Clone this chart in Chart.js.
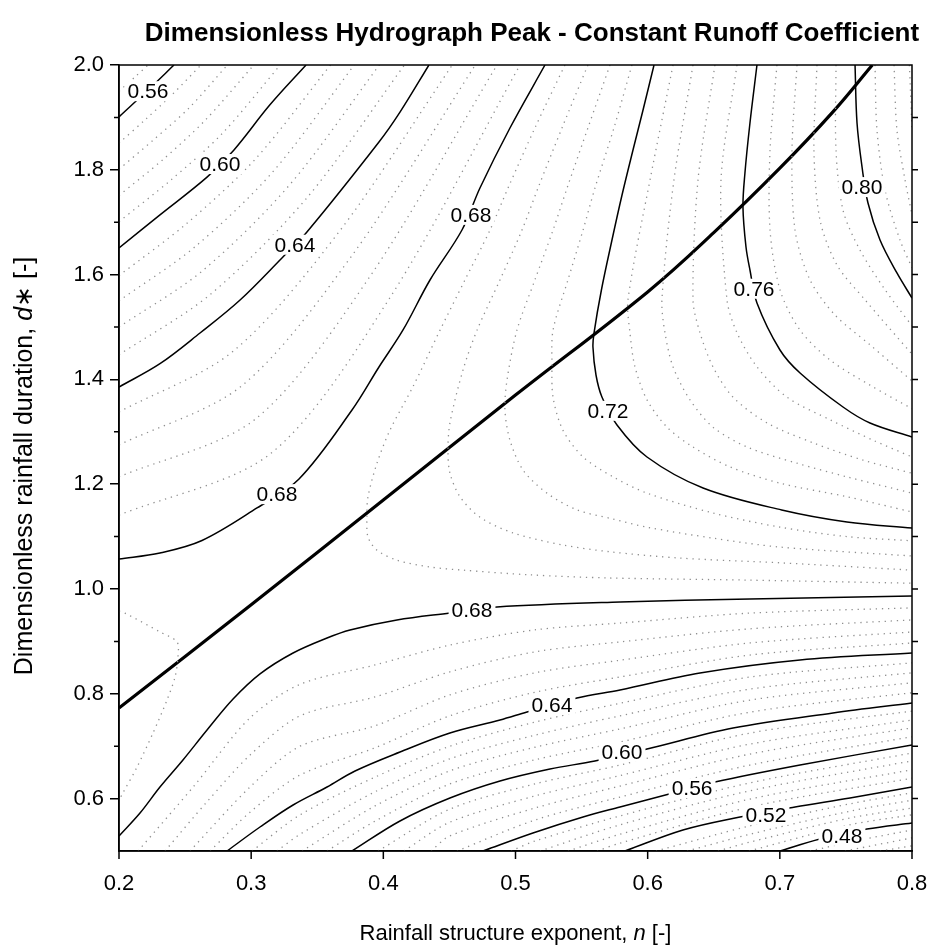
<!DOCTYPE html>
<html lang="en">
<head>
<meta charset="UTF-8">
<title>Dimensionless Hydrograph Peak - Constant Runoff Coefficient</title>
<script src="https://cdn.jsdelivr.net/npm/chart.js"></script>
<style>
  body { margin: 0; background: #fff; }
  #chart { display: block; }
</style>
</head>
<body>
<canvas id="chart" width="931" height="951"></canvas>
<script>
const FONT = '"Liberation Sans", Arial, sans-serif';

// axis ticks
const xTicks = [0.2, 0.3, 0.4, 0.5, 0.6, 0.7, 0.8];
const yTicks = [0.6, 0.8, 1.0, 1.2, 1.4, 1.6, 1.8, 2.0];
const yMinorTicks = [0.7, 0.9, 1.1, 1.3, 1.5, 1.7, 1.9];
const yRightTicks = [0.6, 0.7, 0.8, 0.9, 1.0, 1.1, 1.2, 1.3, 1.4, 1.5, 1.6, 1.7, 1.8, 1.9];

// solid contours, [n, d*]
const c056a = [[0.200,1.901],[0.2235,1.956],[0.2416,2.0]];
const c060a = [[0.200,1.651],[0.231,1.714],[0.2666,1.786],[0.287,1.838],[0.3142,1.924],[0.3415,2.0]];
const c064a = [[0.200,1.3855],[0.231,1.430],[0.2613,1.4885],[0.2916,1.5515],[0.3233,1.6317],[0.3422,1.6813],[0.3967,1.853],[0.4126,1.910],[0.4345,2.0]];
const c068a = [[0.200,1.0573],[0.231,1.0687],[0.2628,1.0925],[0.3044,1.1546],[0.3362,1.2100],[0.3763,1.3416],[0.3967,1.4237],[0.4149,1.4943],[0.4353,1.5897],[0.4595,1.6851],[0.4731,1.7653],[0.4958,1.8798],[0.5223,2.0]];
const c072 = [[0.6048,2.0],[0.5965,1.9141],[0.5889,1.8378],[0.5806,1.7519],[0.5730,1.666],[0.5650,1.5706],[0.5594,1.4885],[0.5586,1.4618],[0.5609,1.4084],[0.5654,1.3664],[0.5768,1.313],[0.5995,1.2519],[0.6419,1.1927],[0.7014,1.1508],[0.7508,1.1279],[0.8,1.1164]];
const c076 = [[0.6827,2.0],[0.6774,1.8893],[0.6736,1.7939],[0.6721,1.729],[0.6744,1.6527],[0.6774,1.6088],[0.6827,1.5458],[0.7001,1.4561],[0.7153,1.4122],[0.7478,1.3473],[0.7682,1.3168],[0.8,1.2901]];
const c080 = [[0.7569,2.0],[0.7584,1.8893],[0.7622,1.8053],[0.7667,1.7366],[0.7758,1.666],[0.7886,1.6031],[0.8,1.5553]];
const c068b = [[0.200,0.5286],[0.2159,0.5725],[0.231,0.6221],[0.2484,0.6737],[0.2666,0.7309],[0.2863,0.7900],[0.3067,0.8380],[0.3317,0.8779],[0.3574,0.9065],[0.3748,0.9218],[0.4103,0.9408],[0.4504,0.9542],[0.486,0.9656],[0.5791,0.9752],[0.6774,0.9809],[0.8,0.9866]];
const c064b = [[0.2817,0.5],[0.3067,0.5458],[0.3317,0.5878],[0.3574,0.6221],[0.3786,0.6527],[0.4126,0.6889],[0.4504,0.7252],[0.4883,0.75],[0.5087,0.7653],[0.5465,0.792],[0.5791,0.8073],[0.6396,0.8397],[0.7153,0.8645],[0.8,0.8779]];
const c060b = [[0.3763,0.5],[0.4126,0.5573],[0.4504,0.6011],[0.4883,0.6336],[0.5261,0.6565],[0.5601,0.6718],[0.5995,0.6947],[0.6646,0.7347],[0.7402,0.7634],[0.8,0.7824]];
const c056b = [[0.4754,0.5],[0.5132,0.5344],[0.5511,0.5649],[0.5791,0.584],[0.6192,0.6107],[0.6509,0.6317],[0.7153,0.6641],[0.8,0.7023]];
const c052 = [[0.5828,0.5],[0.6267,0.5401],[0.6661,0.563],[0.7115,0.584],[0.7531,0.6011],[0.8,0.6221]];
const c048 = [[0.7001,0.5],[0.7304,0.5229],[0.7659,0.542],[0.8,0.5534]];

// heavy line
const thickLine = [[0.2,0.773],[0.3,0.970],[0.4,1.170],[0.5,1.370],[0.6,1.567],[0.65,1.680],[0.7,1.803],[0.74,1.910],[0.77,2.0]];

// dotted contours (every 0.008)
const dotsUpperLeft = [
  [[0.2,1.95],[0.212,1.977],[0.222,2.0]],
  [[0.2,1.851],[0.220,1.896],[0.240,1.943],[0.262,2.0]],
  [[0.2,1.801],[0.226,1.857],[0.253,1.918],[0.282,2.0]],
  [[0.2,1.751],[0.233,1.819],[0.265,1.894],[0.302,2.0]],
  [[0.2,1.701],[0.239,1.780],[0.278,1.869],[0.322,2.0]],
  [[0.2,1.598],[0.251,1.697],[0.303,1.820],[0.360,2.0]],
  [[0.2,1.55],[0.257,1.652],[0.316,1.795],[0.378,2.0]],
  [[0.2,1.50],[0.263,1.607],[0.329,1.771],[0.397,2.0]],
  [[0.2,1.447],[0.269,1.562],[0.342,1.746],[0.416,2.0]],
  [[0.2,1.338],[0.286,1.453],[0.366,1.680],[0.4522,2.0]],
  [[0.2,1.275],[0.293,1.388],[0.377,1.639],[0.4696,2.0]],
  [[0.2,1.214],[0.303,1.324],[0.390,1.597],[0.486,2.0]],
  [[0.2,1.141],[0.315,1.259],[0.405,1.556],[0.5034,2.0]]
];
const dotsSaddle = [
  [[0.5374,2.0],[0.5147,1.880],[0.4943,1.765],[0.4807,1.685],[0.4618,1.590],[0.4429,1.494],[0.4224,1.386],[0.4050,1.303],[0.3952,1.240],[0.3884,1.176],[0.3876,1.137],[0.3884,1.099],[0.3952,1.074],[0.4103,1.055],[0.4353,1.042],[0.4603,1.036],[0.5110,1.027],[0.5715,1.021],[0.6752,1.017],[0.8,1.011]],
  [[0.5548,2.0],[0.5352,1.880],[0.5170,1.765],[0.5049,1.685],[0.4883,1.590],[0.4709,1.494],[0.4603,1.418],[0.4504,1.317],[0.4489,1.265],[0.4504,1.221],[0.4580,1.176],[0.4731,1.137],[0.4981,1.107],[0.5359,1.084],[0.5715,1.071],[0.6245,1.059],[0.7001,1.050],[0.8,1.036]],
  [[0.5715,2.0],[0.5548,1.880],[0.5390,1.765],[0.5284,1.685],[0.5147,1.590],[0.5011,1.494],[0.4936,1.399],[0.4920,1.342],[0.4958,1.284],[0.5057,1.227],[0.5238,1.183],[0.5465,1.151],[0.5730,1.134],[0.5995,1.118],[0.6494,1.097],[0.7001,1.080],[0.8,1.063]],
  [[0.5881,2.0],[0.5745,1.880],[0.5601,1.765],[0.5511,1.685],[0.5397,1.590],[0.5284,1.494],[0.5276,1.431],[0.5284,1.366],[0.5359,1.303],[0.5511,1.252],[0.5738,1.214],[0.5995,1.183],[0.6494,1.145],[0.7001,1.118],[0.7508,1.100],[0.8,1.092]]
];
const dotsUpperRight = [
  [[0.6192,2.0],[0.6018,1.781],[0.5851,1.552],[0.5866,1.489],[0.5904,1.424],[0.5995,1.361],[0.6146,1.309],[0.6343,1.271],[0.6623,1.233],[0.7001,1.202],[0.7508,1.176],[0.8,1.147]],
  [[0.6343,2.0],[0.6199,1.781],[0.6108,1.552],[0.6131,1.489],[0.6192,1.424],[0.6320,1.361],[0.6494,1.309],[0.6752,1.271],[0.7130,1.240],[0.7508,1.214],[0.8,1.183]],
  [[0.6509,2.0],[0.6381,1.781],[0.6343,1.552],[0.6396,1.489],[0.6494,1.424],[0.6646,1.366],[0.6903,1.317],[0.7251,1.279],[0.7629,1.246],[0.8,1.221]],
  [[0.6676,2.0],[0.6555,1.781],[0.6600,1.552],[0.6676,1.489],[0.6827,1.424],[0.7054,1.366],[0.7380,1.323],[0.7705,1.284],[0.8,1.252]],
  [[0.6978,2.0],[0.6926,1.838],[0.6926,1.685],[0.7001,1.571],[0.7153,1.494],[0.7380,1.437],[0.7682,1.389],[0.8,1.344]],
  [[0.7130,2.0],[0.7092,1.838],[0.7115,1.685],[0.7228,1.590],[0.7417,1.523],[0.7682,1.466],[0.8,1.397]],
  [[0.7281,2.0],[0.7258,1.838],[0.7304,1.704],[0.7433,1.618],[0.7644,1.552],[0.8,1.448]],
  [[0.7425,2.0],[0.7425,1.838],[0.7478,1.723],[0.7606,1.647],[0.7796,1.571],[0.8,1.502]],
  [[0.7720,2.0],[0.7735,1.876],[0.7796,1.761],[0.7909,1.666],[0.8,1.613]],
  [[0.7864,2.0],[0.7886,1.876],[0.7947,1.781],[0.8,1.714]],
  [[0.7980,2.0],[0.7992,1.930],[0.8,1.880]]
];
const dotsLeftBump = [
  [[0.2,0.958],[0.2045,0.954],[0.231,0.918],[0.2439,0.899],[0.2446,0.870],[0.2424,0.832],[0.2363,0.788],[0.2257,0.725],[0.2136,0.660],[0.2030,0.611],[0.2,0.597]]
];
const dotsLower = [
  [[0.2144,0.5],[0.2567,0.624],[0.2991,0.754],[0.3370,0.818],[0.3937,0.855],[0.4504,0.893],[0.5147,0.922],[0.5791,0.935],[0.6774,0.954],[0.8,0.964]],
  [[0.2348,0.5],[0.2666,0.594],[0.2991,0.683],[0.3370,0.758],[0.3937,0.794],[0.4504,0.842],[0.5147,0.880],[0.5791,0.899],[0.6774,0.924],[0.8,0.941]],
  [[0.2537,0.5],[0.2991,0.622],[0.3370,0.700],[0.3937,0.739],[0.4504,0.798],[0.5147,0.840],[0.5791,0.864],[0.6774,0.897],[0.8,0.918]],
  [[0.2689,0.5],[0.2991,0.574],[0.3370,0.645],[0.3937,0.697],[0.4504,0.758],[0.5147,0.803],[0.5791,0.832],[0.6774,0.874],[0.8,0.897]],
  [[0.3006,0.5],[0.3370,0.569],[0.3937,0.641],[0.4504,0.700],[0.5147,0.746],[0.5791,0.782],[0.6774,0.832],[0.8,0.859]],
  [[0.3195,0.5],[0.3370,0.532],[0.3937,0.613],[0.4504,0.676],[0.5147,0.721],[0.5791,0.758],[0.6774,0.809],[0.8,0.840]],
  [[0.3385,0.5],[0.3937,0.586],[0.4504,0.653],[0.5147,0.698],[0.5791,0.733],[0.6774,0.788],[0.8,0.821]],
  [[0.3574,0.5],[0.3937,0.557],[0.4504,0.628],[0.5147,0.674],[0.5791,0.708],[0.6774,0.765],[0.8,0.802]],
  [[0.3960,0.5],[0.4504,0.580],[0.5147,0.628],[0.5791,0.664],[0.6774,0.725],[0.8,0.767]],
  [[0.4156,0.5],[0.4504,0.555],[0.5147,0.605],[0.5791,0.644],[0.6774,0.704],[0.8,0.750]],
  [[0.4361,0.5],[0.4504,0.529],[0.5147,0.582],[0.5791,0.624],[0.6774,0.685],[0.8,0.735]],
  [[0.4557,0.5],[0.5147,0.559],[0.5791,0.603],[0.6774,0.664],[0.8,0.718]],
  [[0.4966,0.5],[0.5147,0.519],[0.5791,0.567],[0.6774,0.630],[0.8,0.687]],
  [[0.5185,0.5],[0.5791,0.550],[0.6774,0.615],[0.8,0.672]],
  [[0.5397,0.5],[0.5791,0.532],[0.6774,0.599],[0.8,0.655]],
  [[0.5617,0.5],[0.5791,0.515],[0.6774,0.584],[0.8,0.639]],
  [[0.6063,0.5],[0.6774,0.548],[0.7531,0.590],[0.8,0.611]],
  [[0.6298,0.5],[0.6774,0.532],[0.7531,0.576],[0.8,0.597]],
  [[0.6532,0.5],[0.6774,0.517],[0.7531,0.563],[0.8,0.582]],
  [[0.6767,0.5],[0.7531,0.550],[0.8,0.569]],
  [[0.7228,0.5],[0.7606,0.521],[0.8,0.540]],
  [[0.7493,0.5],[0.8,0.525]],
  [[0.7758,0.5],[0.8,0.510]]
];

// contour labels
const labelText = ['0.56', '0.60', '0.64', '0.68', '0.68', '0.72', '0.76', '0.80', '0.68', '0.64', '0.60', '0.56', '0.52', '0.48'];
const labelN = [0.2219, 0.2764, 0.3332, 0.3195, 0.4663, 0.570, 0.6805, 0.7622, 0.4671, 0.5276, 0.5806, 0.6336, 0.6895, 0.747];
const labelD = [1.950, 1.811, 1.657, 1.181, 1.714, 1.340, 1.573, 1.767, 0.960, 0.779, 0.689, 0.620, 0.569, 0.529];

const toPts = line => line.map(([n, d]) => ({ x: n, y: d }));

const dotted = [...dotsUpperLeft, ...dotsSaddle, ...dotsUpperRight, ...dotsLeftBump, ...dotsLower];
const solids = [c056a, c060a, c064a, c068a, c072, c076, c080, c068b, c064b, c060b, c056b, c052, c048];

const datasets = [];
dotted.forEach(l => datasets.push({
  data: toPts(l), showLine: true, pointRadius: 0,
  borderColor: '#8f8f8f', borderWidth: 1.3, borderDash: [1.3, 4.8], tension: 0.3
}));
solids.forEach(l => datasets.push({
  data: toPts(l), showLine: true, pointRadius: 0,
  borderColor: '#000', borderWidth: 1.5, tension: 0.35
}));
datasets.push({
  data: toPts(thickLine), showLine: true, pointRadius: 0,
  borderColor: '#000', borderWidth: 3.2, tension: 0.4
});

// labels on the contour lines, white box makes the gap
const contourLabels = {
  id: 'contourLabels',
  afterDatasetsDraw(chart) {
    const { ctx, scales: { x, y } } = chart;
    ctx.save();
    ctx.font = '21px ' + FONT;
    ctx.textAlign = 'center';
    ctx.textBaseline = 'middle';
    labelText.forEach((t, i) => {
      const px = x.getPixelForValue(labelN[i]);
      const py = y.getPixelForValue(labelD[i]);
      const w = ctx.measureText(t).width;
      ctx.fillStyle = '#fff';
      ctx.fillRect(px - w / 2 - 3, py - 10, w + 6, 20);
      ctx.fillStyle = '#000';
      ctx.fillText(t, px, py + 1);
    });
    ctx.restore();
  }
};

// box, bottom ticks, minor ticks on the left, ticks on the right
const frame = {
  id: 'frame',
  afterDraw(chart) {
    const { ctx, chartArea: a, scales: { x, y } } = chart;
    ctx.save();
    ctx.strokeStyle = '#000';
    ctx.lineWidth = 1.5;
    ctx.strokeRect(a.left, a.top, a.right - a.left, a.bottom - a.top);
    ctx.beginPath();
    xTicks.forEach(v => {
      const p = x.getPixelForValue(v);
      ctx.moveTo(p, a.bottom); ctx.lineTo(p, a.bottom + 8);
    });
    yMinorTicks.forEach(v => {
      const p = y.getPixelForValue(v);
      ctx.moveTo(a.left - 5, p); ctx.lineTo(a.left, p);
    });
    yRightTicks.forEach(v => {
      const p = y.getPixelForValue(v);
      ctx.moveTo(a.right, p); ctx.lineTo(a.right + 6, p);
    });
    ctx.stroke();
    ctx.restore();
  }
};

function richText(ctx, parts, cx, cy, size) {
  const fonts = parts.map(p => (p.i ? 'italic ' : '') + size + 'px ' + FONT);
  const widths = parts.map((p, k) => { ctx.font = fonts[k]; return ctx.measureText(p.t).width; });
  let x0 = cx - widths.reduce((s, w) => s + w, 0) / 2;
  parts.forEach((p, k) => { ctx.font = fonts[k]; ctx.fillText(p.t, x0, cy); x0 += widths[k]; });
}

// chart title and axis titles
const titles = {
  id: 'titles',
  afterDraw(chart) {
    const { ctx, chartArea: a } = chart;
    ctx.save();
    ctx.fillStyle = '#000';
    ctx.textBaseline = 'middle';
    ctx.textAlign = 'center';
    ctx.font = 'bold 26px "Liberation Sans Narrow", "Liberation Sans", Arial, sans-serif';
    ctx.fillText('Dimensionless Hydrograph Peak - Constant Runoff Coefficient', 532, 34);
    ctx.textAlign = 'left';
    richText(ctx, [{ t: 'Rainfall structure exponent, ' }, { t: 'n', i: true }, { t: ' [-]' }], (a.left + a.right) / 2, 934, 22);
    ctx.translate(25, (a.top + a.bottom) / 2 + 8);
    ctx.rotate(-Math.PI / 2);
    richText(ctx, [{ t: 'Dimensionless rainfall duration, ' }, { t: 'd', i: true }, { t: '\u2217 [-]' }], 0, 0, 25);
    ctx.restore();
  }
};

new Chart(document.getElementById('chart'), {
  type: 'scatter',
  data: { datasets },
  options: {
    responsive: false,
    animation: false,
    devicePixelRatio: 1,
    layout: { padding: { top: 65, right: 19, left: 0, bottom: 0 } },
    plugins: { legend: { display: false }, tooltip: { enabled: false }, title: { display: false } },
    scales: {
      x: {
        min: 0.2, max: 0.8,
        afterBuildTicks: s => { s.ticks = xTicks.map(v => ({ value: v })); },
        afterFit: s => { s.height = 100; },
        ticks: { color: '#000', font: { size: 22, family: FONT }, padding: 2, maxRotation: 0, autoSkip: false, callback: v => v.toFixed(1) },
        // tick marks are drawn by the frame plugin; this only spaces the labels
        grid: { drawOnChartArea: false, drawTicks: true, tickLength: 18, tickColor: 'rgba(0,0,0,0)' },
        border: { display: true, color: '#000', width: 1.5 }
      },
      y: {
        min: 0.5, max: 2.0,
        afterBuildTicks: s => { s.ticks = yTicks.map(v => ({ value: v })); },
        afterFit: s => { s.width = 119; },
        ticks: { color: '#000', font: { size: 22, family: FONT }, padding: 6, autoSkip: false, callback: v => v.toFixed(1) },
        grid: { drawOnChartArea: false, drawTicks: true, tickLength: 9, color: '#000', lineWidth: 1.5 },
        border: { display: true, color: '#000', width: 1.5 }
      }
    }
  },
  plugins: [contourLabels, frame, titles]
});
</script>
</body>
</html>
